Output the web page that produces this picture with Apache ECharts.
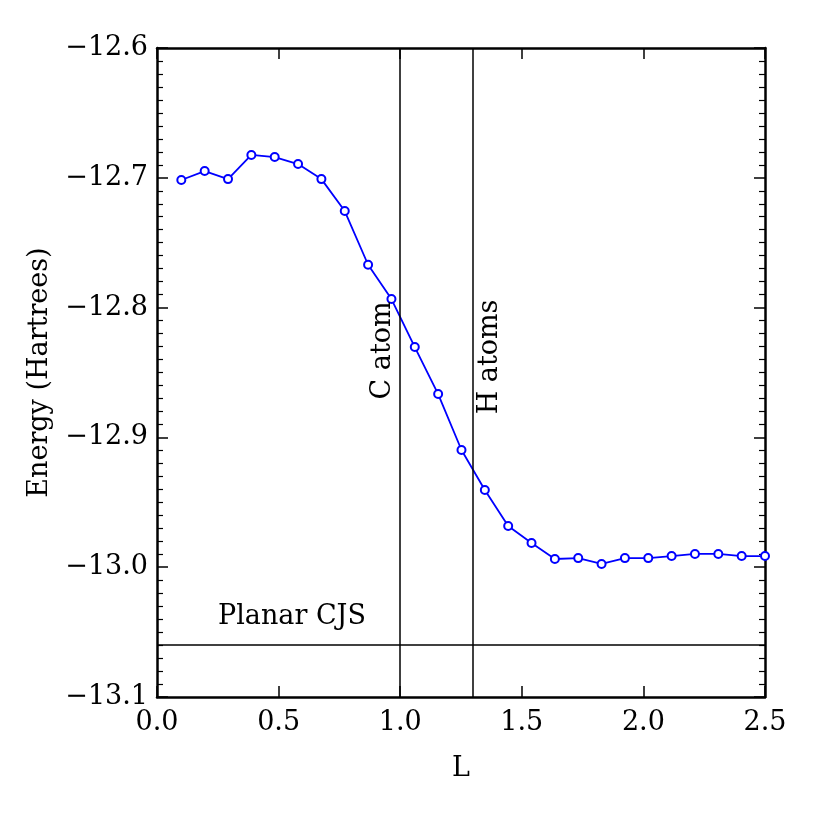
<!DOCTYPE html>
<html>
<head>
<meta charset="utf-8">
<script src="https://cdn.jsdelivr.net/npm/echarts@6/dist/echarts.min.js"></script>
<style>
html, body { margin: 0; padding: 0; background: #fff; }
#main { width: 821px; height: 821px; }
</style>
</head>
<body>
<div id="main"></div>
<script>
// 能量随 L 变化 --- 数据
var lValues = [0.1, 0.196, 0.292, 0.388, 0.484, 0.58, 0.676, 0.772, 0.868, 0.964,
               1.06, 1.156, 1.252, 1.348, 1.444, 1.54, 1.636, 1.732, 1.828, 1.924,
               2.02, 2.116, 2.212, 2.308, 2.404, 2.5];
var energy = [-12.7017, -12.6948, -12.7010, -12.6824, -12.6840, -12.6894, -12.7010, -12.7256, -12.7670, -12.7934,
              -12.8304, -12.8666, -12.9097, -12.9405, -12.9683, -12.9814, -12.9937, -12.9930, -12.9975, -12.9930,
              -12.9930, -12.9914, -12.9898, -12.9898, -12.9914, -12.9914];
var atomLines = [1.0, 1.3];          // C atom, H atoms
var planarEnergy = -13.0584;         // Planar CJS
var notes = [
    { text: 'C atom', x: 0.929, y: -12.833, rotate: 90 },
    { text: 'H atoms', x: 1.369, y: -12.838, rotate: 90 },
    { text: 'Planar CJS', x: 0.555, y: -13.0384, rotate: 0 }
];

var fontName = 'DejaVu Serif';
var fontSize = 27;
var myChart = echarts.init(document.getElementById('main'));
window.onresize = myChart.resize;

function fmt(v) {
    return v.toFixed(1).replace('-', '\u2212');
}

var axisBase = {
    axisLine: { show: true, onZero: false, lineStyle: { color: '#000', width: 2.5 } },
    axisTick: { show: true, inside: true, length: 11, lineStyle: { color: '#000', width: 1.5 } },
    splitLine: { show: false }
};

var lineData = [];
for (var i = 0; i < lValues.length; i++) {
    lineData.push([lValues[i], energy[i]]);
}

option = {
    backgroundColor: '#fff',
    animation: false,
    grid: { left: 157, top: 48, right: 56, bottom: 124 },
    xAxis: [
        echarts.util.merge({
            type: 'value', min: 0, max: 2.5, interval: 0.5, position: 'bottom',
            name: 'L', nameLocation: 'middle', nameGap: 58,
            nameTextStyle: { fontFamily: fontName, fontSize: fontSize, color: '#000' },
            axisLabel: { formatter: fmt, fontFamily: fontName, fontSize: fontSize, color: '#000', margin: 12 }
        }, axisBase, true),
        echarts.util.merge({
            type: 'value', min: 0, max: 2.5, interval: 0.5, position: 'top',
            axisLabel: { show: false }
        }, axisBase, true)
    ],
    yAxis: [
        echarts.util.merge({
            type: 'value', min: -13.1, max: -12.6, interval: 0.1, position: 'left',
            name: 'Energy (Hartrees)', nameLocation: 'middle', nameGap: 104,
            nameTextStyle: { fontFamily: fontName, fontSize: fontSize, color: '#000' },
            minorTick: { show: true, splitNumber: 10, length: 6, lineStyle: { color: '#000', width: 1.2 } },
            axisLabel: { formatter: fmt, fontFamily: fontName, fontSize: fontSize, color: '#000', margin: 9 }
        }, axisBase, true),
        echarts.util.merge({
            type: 'value', min: -13.1, max: -12.6, interval: 0.1, position: 'right',
            minorTick: { show: true, splitNumber: 10, length: 6, lineStyle: { color: '#000', width: 1.2 } },
            axisLabel: { show: false }
        }, axisBase, true)
    ],
    series: [{
        name: 'energy',
        type: 'line',
        data: lineData,
        symbol: 'emptyCircle',
        symbolSize: 8,
        showAllSymbol: true,
        lineStyle: { color: '#0000ff', width: 1.8 },
        itemStyle: { color: '#0000ff', borderColor: '#0000ff', borderWidth: 1.8 },
        z: 3,
        markLine: {
            silent: true,
            symbol: ['none', 'none'],
            label: { show: false },
            lineStyle: { color: '#000', width: 1.5, type: 'solid' },
            data: [
                { xAxis: atomLines[0] },
                { xAxis: atomLines[1] },
                { yAxis: planarEnergy }
            ]
        }
    }, {
        name: 'notes',
        type: 'scatter',
        symbolSize: 0,
        itemStyle: { opacity: 1 },
        data: notes.map(function (n) {
            return {
                value: [n.x, n.y],
                label: {
                    show: true, position: 'inside', formatter: n.text, rotate: n.rotate,
                    fontFamily: fontName, fontSize: fontSize, color: '#000'
                }
            };
        }),
        z: 4
    }]
};

myChart.setOption(option);
</script>
</body>
</html>
